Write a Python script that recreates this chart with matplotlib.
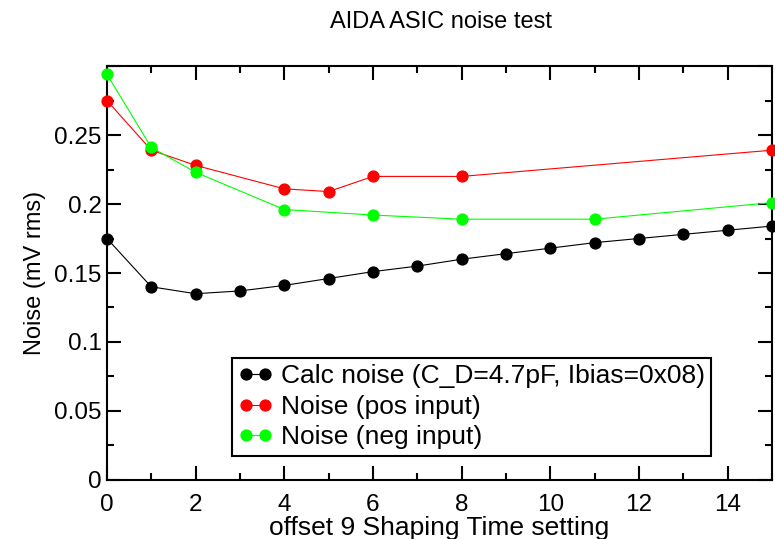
import matplotlib
matplotlib.use("Agg")
import matplotlib.pyplot as plt
from matplotlib.ticker import MultipleLocator, FuncFormatter

plt.rcParams['font.family'] = ['Liberation Sans', 'DejaVu Sans']

calc_x = list(range(16))
calc_y = [0.175, 0.140, 0.135, 0.137, 0.141, 0.146, 0.151, 0.155, 0.160,
          0.164, 0.168, 0.172, 0.175, 0.178, 0.181, 0.184]
pos_x = [0, 1, 2, 4, 5, 6, 8, 15]
pos_y = [0.275, 0.239, 0.228, 0.211, 0.209, 0.220, 0.220, 0.239]
neg_x = [0, 1, 2, 4, 6, 8, 11, 15]
neg_y = [0.294, 0.241, 0.223, 0.196, 0.192, 0.189, 0.189, 0.201]

labels = ["Calc noise (C_D=4.7pF, Ibias=0x08)", "Noise (pos input)", "Noise (neg input)"]

fig = plt.figure(figsize=(7.75, 5.39), dpi=100)
ax = fig.add_axes([0.138, 0.1095, 0.858, 0.768])

ms = 7.8
lw = 0.8
ax.plot(calc_x, calc_y, '-o', color='black', lw=lw, ms=ms, label=labels[0], clip_on=False, zorder=3)
ax.plot(pos_x, pos_y, '-o', color='#ff0000', lw=lw, ms=ms, label=labels[1], clip_on=False, zorder=3)
ax.plot(neg_x, neg_y, '-o', color='#00ff00', lw=lw, ms=ms, label=labels[2], clip_on=False, zorder=3)

ax.set_xlim(0, 15)
ax.set_ylim(0, 0.3)
ax.xaxis.set_major_locator(MultipleLocator(2))
ax.xaxis.set_minor_locator(MultipleLocator(1))
ax.yaxis.set_major_locator(MultipleLocator(0.05))
ax.yaxis.set_minor_locator(MultipleLocator(0.025))
ax.yaxis.set_major_formatter(FuncFormatter(lambda v, p: ('%g' % round(v, 3)) if v < 0.299 else ''))
ax.tick_params(which='both', direction='in', top=True, right=True, width=1.5)
ax.tick_params(which='major', length=10, labelsize=17.5)
ax.tick_params(axis='x', which='major', pad=10)
ax.tick_params(axis='y', which='major', pad=4)
ax.tick_params(which='minor', length=5)
for s in ax.spines.values():
    s.set_linewidth(1.5)

ax.set_xlabel("offset 9 Shaping Time setting", fontsize=19, labelpad=0)
ax.set_ylabel("Noise (mV rms)", fontsize=17, labelpad=6)
fig.text(0.569, 0.959, "AIDA ASIC noise test", ha='center', va='center', fontsize=17)

leg = ax.legend(loc='lower left', bbox_to_anchor=(0.188, 0.058), fontsize=19,
                numpoints=2, handlelength=1.3, handletextpad=0.3, borderpad=0.25,
                labelspacing=0.25, borderaxespad=0, frameon=True, fancybox=False,
                edgecolor='black', framealpha=1)
leg.get_frame().set_linewidth(1.5)

fig.savefig("out.png", dpi=100)
